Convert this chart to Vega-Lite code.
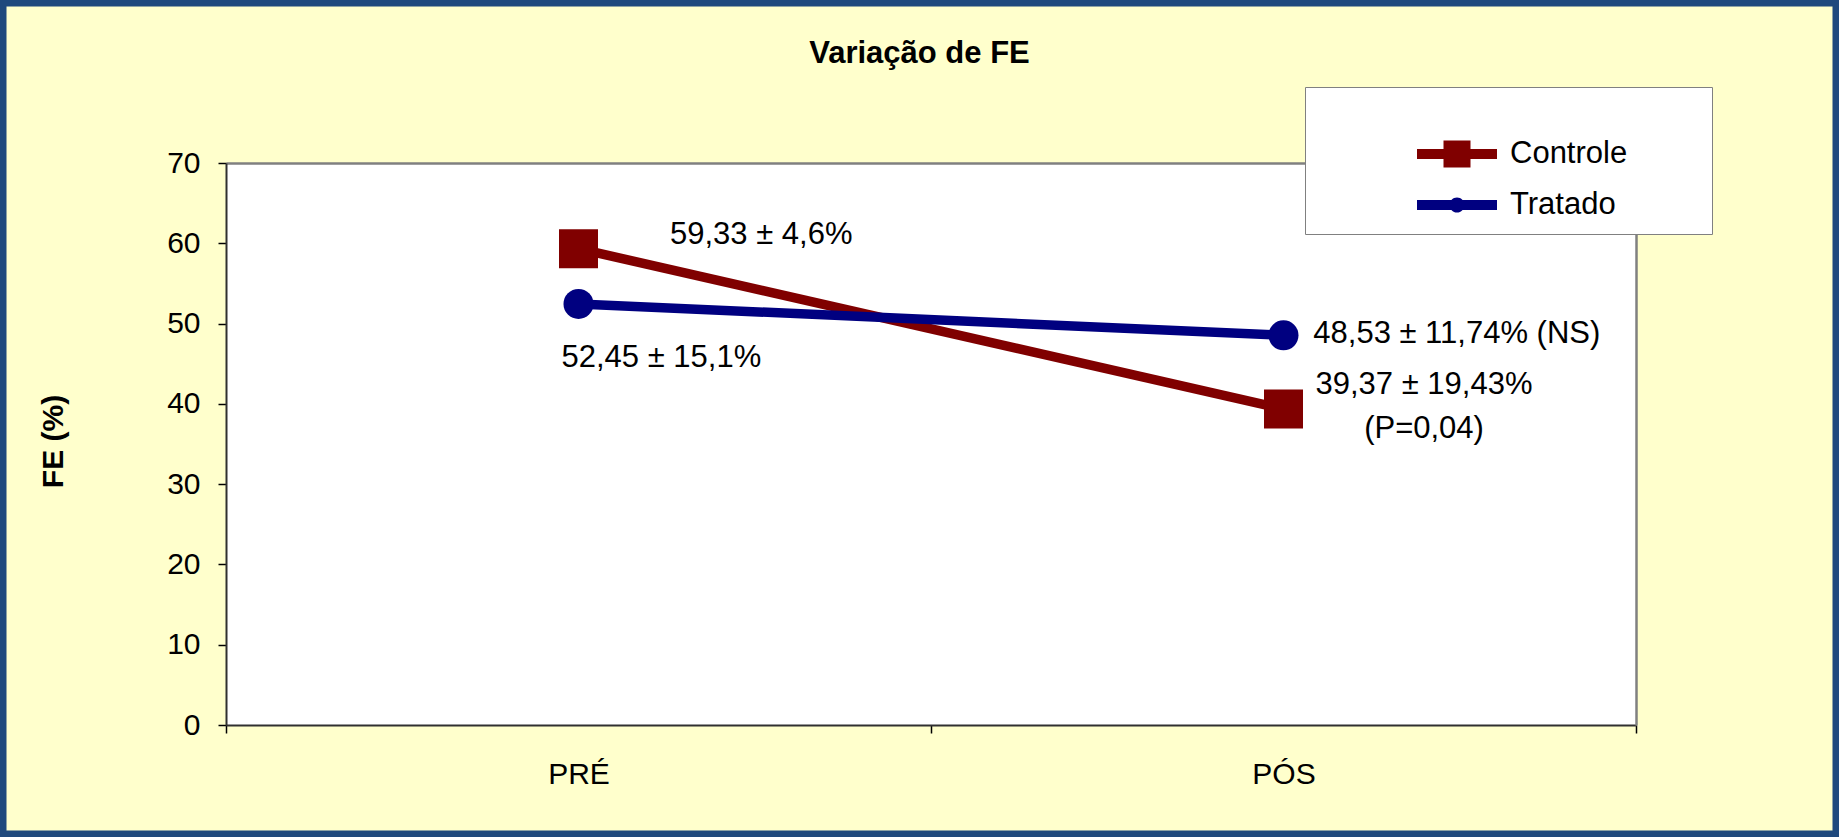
{
  "$schema": "https://vega.github.io/schema/vega-lite/v6.json",
  "width": 1839,
  "height": 837,
  "autosize": {"type": "none"},
  "padding": 0,
  "background": "#1F497D",
  "config": {
    "font": "Liberation Sans",
    "view": {"fill": "#FFFFCC", "stroke": "#1F497D", "strokeWidth": 13}
  },
  "title": {
    "text": "Variação de FE",
    "font": "Liberation Sans",
    "fontSize": 31,
    "fontWeight": "bold",
    "color": "#000000",
    "anchor": "middle",
    "baseline": "alphabetic",
    "offset": -94
  },
  "data": {
    "values": [
      {"momento": "PRÉ", "grupo": "Controle", "fe": 59.33, "rotulo": "59,33 ± 4,6%"},
      {"momento": "PÓS", "grupo": "Controle", "fe": 39.37, "rotulo": "39,37 ± 19,43%\n(P=0,04)"},
      {"momento": "PRÉ", "grupo": "Tratado", "fe": 52.45, "rotulo": "52,45 ± 15,1%"},
      {"momento": "PÓS", "grupo": "Tratado", "fe": 48.53, "rotulo": "48,53 ± 11,74% (NS)"}
    ]
  },
  "resolve": {"axis": {"x": "independent", "y": "independent"}},
  "layer": [
    {
      "mark": {"type": "rect", "fill": "#FFFFFF", "strokeWidth": 0},
      "encoding": {
        "x": {
          "field": "momento", "type": "nominal",
          "scale": {"domain": ["PRÉ", "PÓS"], "range": [226, 1636], "paddingInner": 0, "paddingOuter": 0},
          "axis": {
            "orient": "bottom", "offset": -112, "title": null, "zindex": 1,
            "labelFontSize": 30, "labelColor": "#000000", "labelAngle": 0,
            "labelBaseline": "alphabetic", "labelPadding": 50, "labelDx": 5,
            "tickBand": "extent", "tickSize": 8, "tickColor": "#000000", "tickWidth": 1.5,
            "domainColor": "#303030", "domainWidth": 2
          }
        },
        "y": {
          "datum": 0, "type": "quantitative",
          "scale": {"domain": [0, 70], "range": [725, 163], "nice": false, "zero": true},
          "axis": {
            "orient": "left", "offset": -226, "zindex": 1,
            "values": [0, 10, 20, 30, 40, 50, 60, 70],
            "labelFontSize": 30, "labelColor": "#000000", "labelPadding": 18,
            "tickSize": 8, "tickColor": "#000000", "tickWidth": 1.5,
            "domainColor": "#303030", "domainWidth": 2, "grid": false,
            "title": "FE (%)", "titleFontSize": 30, "titleFontWeight": "bold", "titleColor": "#000000",
            "titleX": -164, "titleY": 441, "titleAngle": 270, "titleAlign": "center", "titleBaseline": "alphabetic"
          }
        },
        "y2": {"datum": 70}
      }
    },
    {
      "mark": {"type": "line", "strokeWidth": 9.5},
      "encoding": {
        "x": {
          "field": "momento", "type": "nominal",
          "scale": {"domain": ["PRÉ", "PÓS"], "range": [226, 1636], "paddingInner": 0, "paddingOuter": 0},
          "axis": {"orient": "top", "offset": -163, "title": null, "labels": false, "ticks": false, "zindex": 1, "domainColor": "#808080", "domainWidth": 2.5}
        },
        "y": {
          "field": "fe", "type": "quantitative",
          "axis": {"orient": "right", "offset": -203, "title": null, "labels": false, "ticks": false, "grid": false, "zindex": 1, "domainColor": "#808080", "domainWidth": 2.5}
        },
        "color": {
          "field": "grupo", "type": "nominal",
          "scale": {"domain": ["Controle", "Tratado"], "range": ["#800000", "#000080"]},
          "legend": {
            "orient": "none", "legendX": 1305, "legendY": 87, "zindex": 3,
            "fillColor": "#FFFFFF", "strokeColor": "#808080",
            "padding": 14,
            "title": " ", "titleFontSize": 20, "titlePadding": 17.5,
            "symbolSize": 729, "symbolOffset": 122.5, "labelOffset": 37.5, "rowPadding": 19,
            "labelFontSize": 31, "labelColor": "#000000", "labelLimit": 400,
            "encode": {
              "symbols": {
                "update": {
                  "shape": {"signal": "datum.value === 'Controle' ? 'M-2.963,-0.37L2.963,-0.37L2.963,0.37L-2.963,0.37Z M-1,-1L1,-1L1,1L-1,1Z M17.8,0' : 'M-2.963,-0.37L2.963,-0.37L2.963,0.37L-2.963,0.37Z M-0.56,0A0.56,0.56,0,1,1,0.56,0A0.56,0.56,0,1,1,-0.56,0Z M17.8,0'"},
                  "fill": {"signal": "datum.value === 'Controle' ? '#800000' : '#000080'"},
                  "stroke": {"value": "transparent"},
                  "strokeWidth": {"value": 0},
                  "opacity": {"value": 1},
                  "size": {"value": 729}
                }
              }
            }
          }
        }
      }
    },
    {
      "transform": [{"filter": "datum.grupo === 'Controle'"}],
      "mark": {"type": "point", "shape": "square", "filled": true, "size": 1521, "color": "#800000", "opacity": 1},
      "encoding": {
        "x": {"field": "momento", "type": "nominal", "axis": null},
        "y": {"field": "fe", "type": "quantitative", "axis": null}
      }
    },
    {
      "transform": [{"filter": "datum.grupo === 'Tratado'"}],
      "mark": {"type": "point", "shape": "circle", "filled": true, "size": 900, "color": "#000080", "opacity": 1},
      "encoding": {
        "x": {"field": "momento", "type": "nominal", "axis": null},
        "y": {"field": "fe", "type": "quantitative", "axis": null}
      }
    },
    {
      "transform": [{"filter": "datum.grupo === 'Controle' && datum.momento === 'PRÉ'"}],
      "mark": {"type": "text", "align": "left", "baseline": "alphabetic", "dx": 91.5, "dy": -4.7, "fontSize": 31, "color": "#000000"},
      "encoding": {
        "x": {"field": "momento", "type": "nominal", "axis": null},
        "y": {"field": "fe", "type": "quantitative", "axis": null},
        "text": {"field": "rotulo"}
      }
    },
    {
      "transform": [{"filter": "datum.grupo === 'Tratado' && datum.momento === 'PRÉ'"}],
      "mark": {"type": "text", "align": "left", "baseline": "alphabetic", "dx": -17, "dy": 62.8, "fontSize": 31, "color": "#000000"},
      "encoding": {
        "x": {"field": "momento", "type": "nominal", "axis": null},
        "y": {"field": "fe", "type": "quantitative", "axis": null},
        "text": {"field": "rotulo"}
      }
    },
    {
      "transform": [{"filter": "datum.grupo === 'Tratado' && datum.momento === 'PÓS'"}],
      "mark": {"type": "text", "align": "left", "baseline": "alphabetic", "dx": 29.8, "dy": 7.9, "fontSize": 31, "color": "#000000"},
      "encoding": {
        "x": {"field": "momento", "type": "nominal", "axis": null},
        "y": {"field": "fe", "type": "quantitative", "axis": null},
        "text": {"field": "rotulo"}
      }
    },
    {
      "transform": [{"filter": "datum.grupo === 'Controle' && datum.momento === 'PÓS'"}],
      "mark": {"type": "text", "align": "center", "baseline": "alphabetic", "dx": 140.5, "dy": -14.6, "fontSize": 31, "lineHeight": 44, "lineBreak": "\n", "color": "#000000"},
      "encoding": {
        "x": {"field": "momento", "type": "nominal", "axis": null},
        "y": {"field": "fe", "type": "quantitative", "axis": null},
        "text": {"field": "rotulo"}
      }
    }
  ]
}
